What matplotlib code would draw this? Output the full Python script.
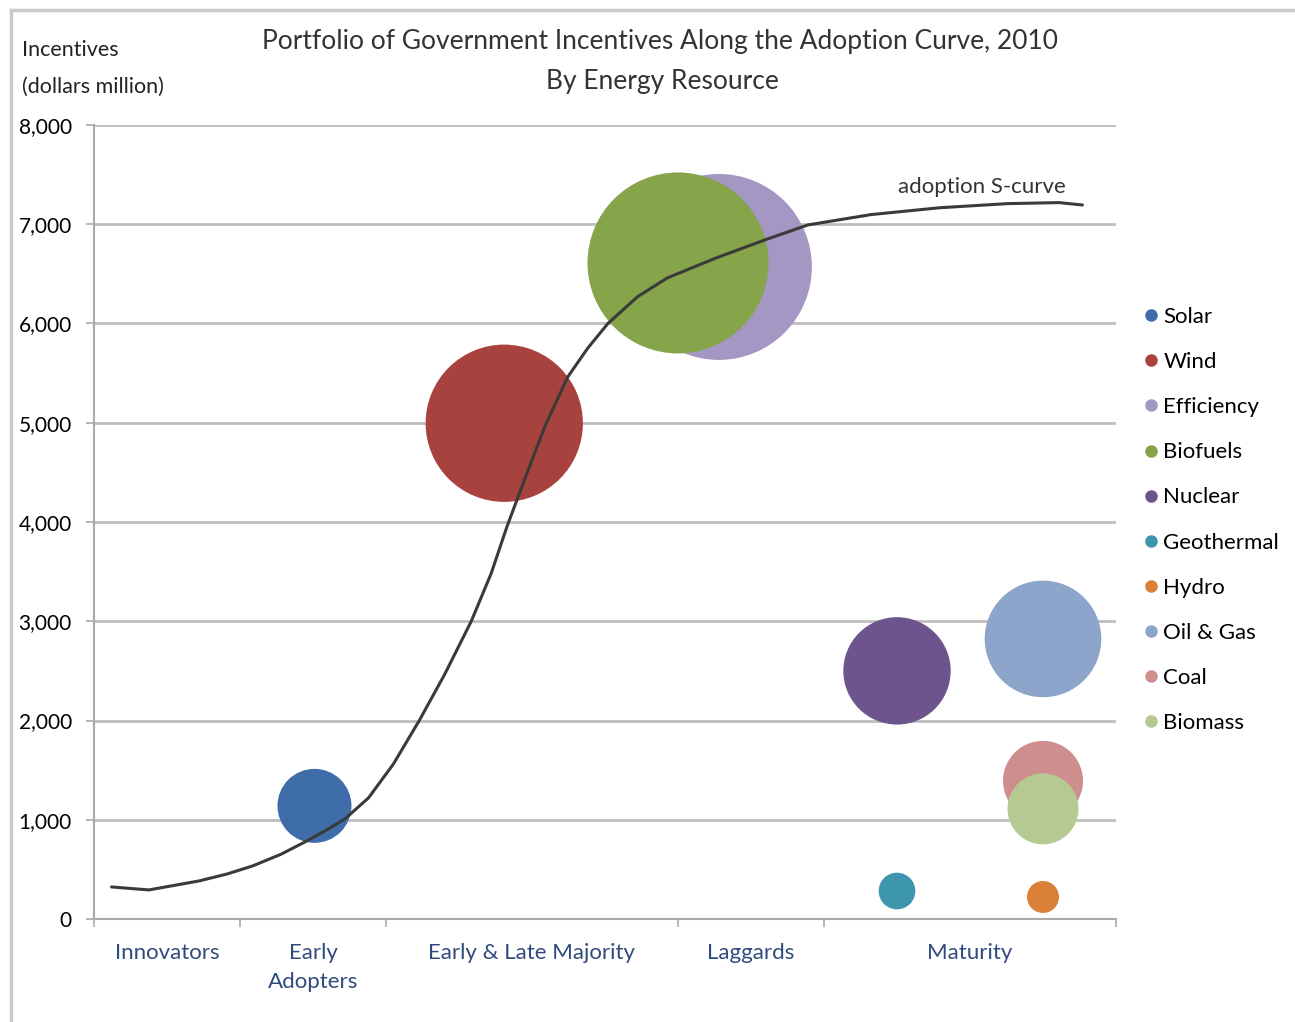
import matplotlib.pyplot as plt
from matplotlib.lines import Line2D

plt.rcParams['font.family'] = ['Lato', 'DejaVu Sans']

# bubble data
resources = ['Solar', 'Wind', 'Efficiency', 'Biofuels', 'Nuclear',
             'Geothermal', 'Hydro', 'Oil & Gas', 'Coal', 'Biomass']
stage_x = [1.51, 2.81, 4.28, 4.0, 5.5, 5.5, 6.5, 6.5, 6.5, 6.5]
incentives = [1140, 4995, 6570, 6610, 2500, 282, 222, 2822, 1392, 1110]
bubble_size = [1140, 5150, 7200, 6820, 2400, 280, 213, 2830, 1330, 1050]
colors = ['#3F6DAA', '#A8423F', '#A597C3', '#86A44A', '#6E548D',
          '#3D96AE', '#DA8137', '#8EA5CB', '#CE8E8D', '#B5CA92']

# adoption s-curve
curve_x = [0.12, 0.376, 0.718, 0.913, 1.087, 1.28, 1.45, 1.597, 1.72, 1.88,
           2.05, 2.228, 2.40, 2.584, 2.72, 2.83, 2.96, 3.09, 3.245, 3.381,
           3.52, 3.723, 3.928, 4.26, 4.61, 4.89, 5.32, 5.79, 6.26, 6.61,
           6.77]
curve_y = [323, 293, 383, 454, 535, 652, 780, 900, 1010, 1220,
           1560, 2000, 2460, 3000, 3480, 3960, 4470, 4970, 5462, 5750,
           6000, 6270, 6460, 6660, 6850, 6993, 7097, 7166, 7208, 7218,
           7194]

stage_pos = [0.5, 1.5, 3.0, 4.5, 6.0]
stage_labels = ['Innovators', 'Early\nAdopters', 'Early & Late Majority',
                'Laggards', 'Maturity']

fig = plt.figure(figsize=(12.95, 10.22), dpi=100)
ax = fig.add_axes([94 / 1295, 1 - 919 / 1022, (1116 - 94) / 1295, (919 - 125) / 1022])

for i in range(len(resources)):
    ax.scatter(stage_x[i], incentives[i], s=bubble_size[i] * 2.49,
               color=colors[i], edgecolors='none', zorder=3)

ax.plot(curve_x, curve_y, color='#3a3a3a', lw=2.2, zorder=5,
        solid_capstyle='round', solid_joinstyle='round')
ax.text(6.08, 7376, 'adoption S-curve', fontsize=16, color='#333333',
        ha='center', va='center', zorder=6)

ax.set_xlim(0, 7)
ax.set_ylim(0, 8000)
ax.set_yticks(range(0, 8001, 1000))
ax.set_yticklabels([f'{v:,}' for v in range(0, 8001, 1000)], fontsize=15)
ax.yaxis.grid(True, color='#BEBEBE', lw=2)
ax.set_axisbelow(True)

ax.set_xticks(stage_pos)
ax.set_xticklabels(stage_labels, fontsize=16, color='#2F4A7C',
                   linespacing=1.6)
ax.set_xticks(range(0, 8), minor=True)
ax.tick_params(axis='x', which='major', length=0, pad=17)
ax.tick_params(axis='x', which='minor', length=6, width=1.2,
               color='#AAAAAA', direction='out')
ax.tick_params(axis='y', length=6, width=1.2, color='#AAAAAA', pad=10)

for side in ['top', 'right']:
    ax.spines[side].set_visible(False)
for side in ['left', 'bottom']:
    ax.spines[side].set_color('#AAAAAA')
    ax.spines[side].set_linewidth(1.5)

handles = [Line2D([], [], marker='o', ls='none', color=c, markersize=8)
           for c in colors]
fig.legend(handles, resources, loc='upper left',
           bbox_to_anchor=(1120 / 1295, 1 - 287 / 1022), frameon=False,
           fontsize=16, handletextpad=0.05, labelspacing=1.13,
           handlelength=1.0)

fig.text(262 / 1295, 1 - 42 / 1022,
         'Portfolio of Government Incentives Along the Adoption Curve, 2010',
         fontsize=19, color='#333333', va='center', ha='left')
fig.text(662 / 1295, 1 - 81 / 1022, 'By Energy Resource', fontsize=19,
         color='#333333', va='center', ha='center')
fig.text(22 / 1295, 1 - 50 / 1022, 'Incentives', fontsize=15.5,
         color='#222222', va='center')
fig.text(22 / 1295, 1 - 87 / 1022, '(dollars million)', fontsize=15.5,
         color='#222222', va='center')

# chart area border (top and left visible)
fig.add_artist(Line2D([11 / 1295, 1], [1 - 10 / 1022, 1 - 10 / 1022],
                      color='#C8C8C8', lw=2.5))
fig.add_artist(Line2D([11 / 1295, 11 / 1295], [0, 1 - 10 / 1022],
                      color='#C8C8C8', lw=2.5))

fig.savefig('out.png', dpi=100)
